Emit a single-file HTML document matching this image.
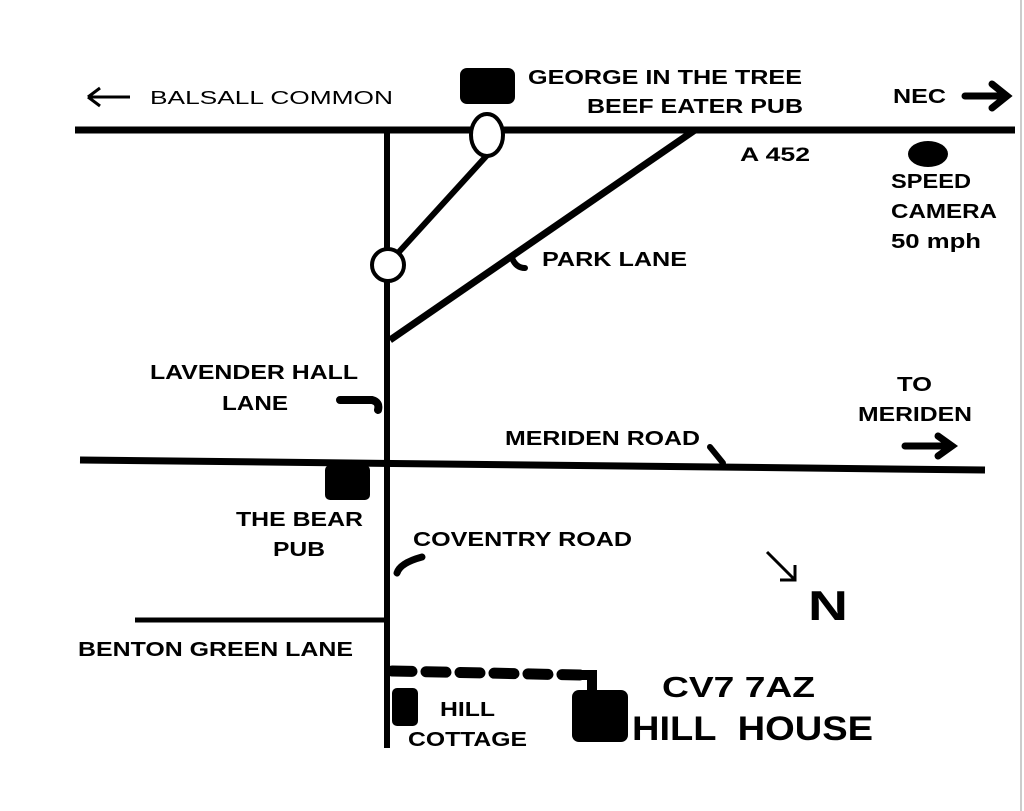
<!DOCTYPE html>
<html><head><style>
html,body{margin:0;padding:0;background:#fff;}
svg{display:block;}
text{font-family:"Liberation Sans",Arial,sans-serif;font-weight:bold;fill:#000;}
</style></head><body>
<svg width="1024" height="811" viewBox="0 0 1024 811" xmlns="http://www.w3.org/2000/svg">
<rect width="1024" height="811" fill="#fff"/>
<line x1="1021" y1="0" x2="1021" y2="811" stroke="#ccc" stroke-width="2"/>
<g stroke="#000" stroke-linecap="butt" fill="none">
<line x1="75" y1="130" x2="1015" y2="130" stroke-width="7"/>
<line x1="387" y1="133" x2="387" y2="748" stroke-width="6"/>
<line x1="390" y1="340" x2="695" y2="130" stroke-width="7"/>
<line x1="398" y1="253" x2="490" y2="152" stroke-width="6"/>
<line x1="80" y1="460" x2="985" y2="470" stroke-width="7"/>
<line x1="135" y1="620" x2="386" y2="620" stroke-width="5"/>
<line x1="392" y1="671" x2="580" y2="675" stroke-width="11" stroke-dasharray="20,14" stroke-linecap="round"/>
<polyline points="575,675 592,675 592,695" stroke-width="10" stroke-linecap="round"/>
</g>
<ellipse cx="487" cy="135" rx="16" ry="21" fill="#fff" stroke="#000" stroke-width="4"/>
<circle cx="388" cy="265" r="16" fill="#fff" stroke="#000" stroke-width="4"/>
<rect x="460" y="68" width="55" height="36" rx="7" fill="#000"/>
<rect x="325" y="465" width="45" height="35" rx="5" fill="#000"/>
<rect x="392" y="688" width="26" height="38" rx="5" fill="#000"/>
<rect x="572" y="690" width="56" height="52" rx="7" fill="#000"/>
<ellipse cx="928" cy="154" rx="20" ry="13" fill="#000"/>
<path d="M340,400 L372,400 Q380,402 378,410" stroke="#000" stroke-width="8" fill="none" stroke-linecap="round"/>
<path d="M512,258 Q516,268 525,268" stroke="#000" stroke-width="6" fill="none" stroke-linecap="round"/>
<path d="M710,447 L723,463" stroke="#000" stroke-width="6" stroke-linecap="round"/>
<path d="M397,573 Q400,563 422,557" stroke="#000" stroke-width="7" fill="none" stroke-linecap="round"/>
<path d="M88,97 L130,97 M88,97 L100,88 M88,97 L100,106" stroke="#000" stroke-width="3" fill="none"/>
<path d="M965,96 L1003,96 M992,84 L1007,96 L992,108" stroke="#000" stroke-width="7" fill="none" stroke-linecap="round"/>
<path d="M905,446 L948,446 M938,436 L952,446 L938,456" stroke="#000" stroke-width="7" fill="none" stroke-linecap="round"/>
<path d="M767,552 L795,580 M795,565 L795,580 L780,580" stroke="#000" stroke-width="3" fill="none"/>
<g lengthAdjust="spacingAndGlyphs">
<text x="150" y="104" font-size="18" style="font-weight:normal" textLength="243" lengthAdjust="spacingAndGlyphs">BALSALL COMMON</text>
<text x="528" y="84" font-size="20" textLength="274" lengthAdjust="spacingAndGlyphs">GEORGE IN THE TREE</text>
<text x="587" y="113" font-size="20" textLength="216" lengthAdjust="spacingAndGlyphs">BEEF EATER PUB</text>
<text x="893" y="103" font-size="20" textLength="53" lengthAdjust="spacingAndGlyphs">NEC</text>
<text x="740" y="161" font-size="19" textLength="70" lengthAdjust="spacingAndGlyphs">A 452</text>
<text x="891" y="188" font-size="20" textLength="80" lengthAdjust="spacingAndGlyphs">SPEED</text>
<text x="891" y="218" font-size="20" textLength="106" lengthAdjust="spacingAndGlyphs">CAMERA</text>
<text x="891" y="248" font-size="20" textLength="90" lengthAdjust="spacingAndGlyphs">50 mph</text>
<text x="542" y="266" font-size="20" textLength="145" lengthAdjust="spacingAndGlyphs">PARK LANE</text>
<text x="150" y="379" font-size="20" textLength="208" lengthAdjust="spacingAndGlyphs">LAVENDER HALL</text>
<text x="222" y="410" font-size="20" textLength="66" lengthAdjust="spacingAndGlyphs">LANE</text>
<text x="897" y="391" font-size="20" textLength="35" lengthAdjust="spacingAndGlyphs">TO</text>
<text x="858" y="421" font-size="20" textLength="114" lengthAdjust="spacingAndGlyphs">MERIDEN</text>
<text x="505" y="445" font-size="20" textLength="195" lengthAdjust="spacingAndGlyphs">MERIDEN ROAD</text>
<text x="236" y="526" font-size="20" textLength="127" lengthAdjust="spacingAndGlyphs">THE BEAR</text>
<text x="273" y="556" font-size="20" textLength="52" lengthAdjust="spacingAndGlyphs">PUB</text>
<text x="413" y="546" font-size="20" textLength="219" lengthAdjust="spacingAndGlyphs">COVENTRY ROAD</text>
<text x="808" y="620" font-size="42" textLength="40" lengthAdjust="spacingAndGlyphs">N</text>
<text x="78" y="656" font-size="20" textLength="275" lengthAdjust="spacingAndGlyphs">BENTON GREEN LANE</text>
<text x="662" y="697" font-size="29" textLength="153" lengthAdjust="spacingAndGlyphs">CV7 7AZ</text>
<text x="632" y="740" font-size="34" textLength="241" lengthAdjust="spacingAndGlyphs">HILL&#160; HOUSE</text>
<text x="440" y="716" font-size="20" textLength="55" lengthAdjust="spacingAndGlyphs">HILL</text>
<text x="408" y="746" font-size="20" textLength="119" lengthAdjust="spacingAndGlyphs">COTTAGE</text>
</g>
</svg>
</body></html>
